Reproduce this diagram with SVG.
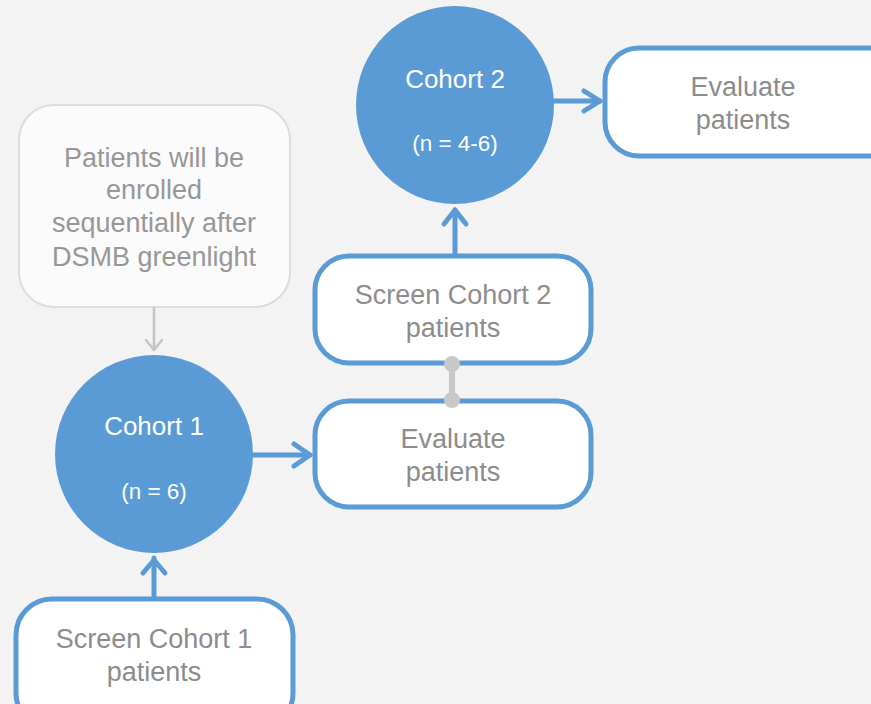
<svg xmlns="http://www.w3.org/2000/svg" width="871" height="704" viewBox="0 0 871 704">
<defs>
<style>
.bg{fill:#f3f3f3}
.box{fill:#ffffff;stroke:#5b9bd5;stroke-width:5}
.note{fill:#fbfbfb;stroke:#dcdcdc;stroke-width:2}
.circ{fill:#5b9bd5}
.bt{font-family:"Liberation Sans",Arial,sans-serif;font-size:27px;fill:#8c8c8c;text-anchor:middle}
.nt{fill:#979797}
.ct{font-family:"Liberation Sans",Arial,sans-serif;font-size:26px;fill:#ffffff;text-anchor:middle}
.cs{font-family:"Liberation Sans",Arial,sans-serif;font-size:22.5px;fill:#ffffff;text-anchor:middle}
.ln{fill:none;stroke:#5b9bd5;stroke-width:5;stroke-linecap:round;stroke-linejoin:round}
.gl{fill:none;stroke:#c4c4c4;stroke-width:2.5;stroke-linecap:round;stroke-linejoin:round}
</style>
</defs>
<rect class="bg" x="0" y="0" width="871" height="704"/>
<g id="note">
<rect class="note" x="19" y="105" width="271" height="202" rx="35"/>
<text class="bt nt" x="154" y="167">Patients will be</text>
<text class="bt nt" x="154" y="199">enrolled</text>
<text class="bt nt" x="154" y="232">sequentially after</text>
<text class="bt nt" x="154" y="266">DSMB greenlight</text>
</g>
<g id="cohort1">
<circle class="circ" cx="154" cy="454" r="99"/>
<text class="ct" x="154" y="435">Cohort 1</text>
<text class="cs" x="154" y="499">(n = 6)</text>
</g>
<g id="cohort2">
<circle class="circ" cx="455" cy="105" r="99"/>
<text class="ct" x="455" y="88">Cohort 2</text>
<text class="cs" x="455" y="151">(n = 4-6)</text>
</g>
<g id="screen1">
<rect class="box" x="16" y="599" width="277" height="130" rx="36"/>
<text class="bt" x="154" y="648">Screen Cohort 1</text>
<text class="bt" x="154" y="681">patients</text>
</g>
<g id="evaluate1">
<rect class="box" x="315" y="401" width="276" height="106" rx="34"/>
<text class="bt" x="453" y="448">Evaluate</text>
<text class="bt" x="453" y="481">patients</text>
</g>
<g id="screen2">
<rect class="box" x="315" y="256" width="276" height="107" rx="34"/>
<text class="bt" x="453" y="304">Screen Cohort 2</text>
<text class="bt" x="453" y="337">patients</text>
</g>
<g id="evaluate2">
<rect class="box" x="605" y="48" width="300" height="108" rx="34"/>
<text class="bt" x="743" y="96">Evaluate</text>
<text class="bt" x="743" y="129">patients</text>
</g>
<g id="connectors">
<line class="ln" x1="154" y1="598" x2="154" y2="558"/>
<polyline class="ln" points="143,573 154,560 165,573"/>
<line class="ln" x1="253" y1="455" x2="310" y2="455"/>
<polyline class="ln" points="294,444 310,455 294,466"/>
<line class="ln" x1="455" y1="255" x2="455" y2="210"/>
<polyline class="ln" points="444,224 455,210 466,224"/>
<line class="ln" x1="553" y1="101" x2="600" y2="101"/>
<polyline class="ln" points="584,91 600,101 584,111"/>
<line class="gl" x1="154" y1="308" x2="154" y2="350"/>
<polyline class="gl" points="146,340 154,350 162,340"/>
<line x1="452" y1="364" x2="452" y2="400" stroke="#c8c8c8" stroke-width="6"/>
<circle cx="452" cy="364" r="8" fill="#c8c8c8"/>
<circle cx="452" cy="400" r="8" fill="#c8c8c8"/>
</g>
</svg>
